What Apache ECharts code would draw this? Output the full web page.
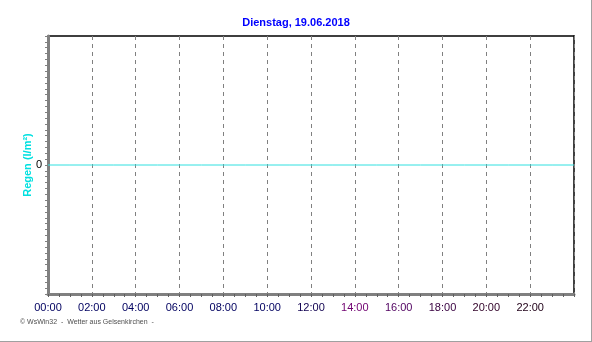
<!DOCTYPE html>
<html>
<head>
<meta charset="utf-8">
<script src="https://cdn.jsdelivr.net/npm/echarts@6/dist/echarts.min.js"></script>
<style>
html,body{margin:0;padding:0;background:#fff;}
#chart{width:592px;height:342px;}
</style>
</head>
<body>
<div id="chart"></div>
<script>
// Data
var titleText = "Dienstag, 19.06.2018";
var yAxisName = "Regen (l/m²)";
var footerText = "© WsWin32  -  Wetter aus Gelsenkirchen  -";
var hours = [0,1,2,3,4,5,6,7,8,9,10,11,12,13,14,15,16,17,18,19,20,21,22,23,24];
var rain  = [0,0,0,0,0,0,0,0,0,0,0,0,0,0,0,0,0,0,0,0,0,0,0,0,0];
var tickLabels = ["00:00","02:00","04:00","06:00","08:00","10:00","12:00","14:00","16:00","18:00","20:00","22:00"];
var labelColors = ["#000060","#000060","#000060","#000060","#000060","#000060","#100050","#700070","#500060","#380040","#300028","#200018"];

var chart = echarts.init(document.getElementById('chart'));
var richStyles = {};
labelColors.forEach(function(c, i){ richStyles['c'+i] = {color: c, fontSize: 11, fontFamily: 'Liberation Sans, Arial, sans-serif'}; });

chart.setOption({
  animation: false,
  backgroundColor: '#ffffff',
  title: {
    text: titleText, left: 'center', top: 12,
    textStyle: {color: '#0000ff', fontSize: 11, fontWeight: 'bold', fontFamily: 'Liberation Sans, Arial, sans-serif'}
  },
  grid: {left: 48, right: 18, top: 36, bottom: 48, show: false},
  xAxis: [{
    type: 'value', min: 0, max: 24, interval: 2, position: 'bottom',
    axisLine: {show: true, onZero: false, lineStyle: {color: '#808080', width: 3}},
    axisTick: {show: true, length: 3, lineStyle: {color: '#606060'}},
    minorTick: {show: true, splitNumber: 4, length: 3, lineStyle: {color: '#606060'}},
    splitLine: {show: true, lineStyle: {color: '#808080', type: [4, 4], width: 1}},
    axisLabel: {
      margin: 8,
      formatter: function(v){ var i = Math.round(v/2); if (i >= tickLabels.length) return ''; return '{c'+i+'|'+tickLabels[i]+'}'; },
      rich: richStyles
    },
    z: 3
  }, {
    type: 'value', min: 0, max: 24, position: 'top',
    axisLine: {show: true, onZero: false, lineStyle: {color: '#000', width: 1.5}},
    axisTick: {show: false}, axisLabel: {show: false}, splitLine: {show: false}
  }],
  yAxis: [{
    type: 'value', min: -1, max: 1, interval: 1, position: 'left',
    name: yAxisName, nameLocation: 'middle', nameRotate: 90, nameGap: 15, nameMoveOverlap: false,
    nameTextStyle: {color: '#00e0e0', fontSize: 11, fontWeight: 'bold', fontFamily: 'Liberation Sans, Arial, sans-serif'},
    axisLine: {show: true, onZero: false, lineStyle: {color: '#808080', width: 3}},
    axisTick: {show: true, length: 3, lineStyle: {color: '#808080'}},
    minorTick: {show: true, splitNumber: 22, length: 3, lineStyle: {color: '#808080'}},
    splitLine: {show: false},
    axisLabel: {
      margin: 6, color: '#000', fontSize: 11, fontFamily: 'Liberation Sans, Arial, sans-serif',
      formatter: function(v){ return v === 0 ? '0' : ''; }
    },
    z: 3
  }, {
    type: 'value', min: -1, max: 1, position: 'right',
    axisLine: {show: true, onZero: false, lineStyle: {color: '#000', width: 1.5}},
    axisTick: {show: false}, axisLabel: {show: false}, splitLine: {show: false}
  }],
  series: [{
    type: 'line', xAxisIndex: 0, yAxisIndex: 0,
    data: hours.map(function(h, i){ return [h, rain[i]]; }),
    showSymbol: false, lineStyle: {color: '#30e0e0', width: 1}, z: 5
  }],
  graphic: [
    {type: 'text', left: 20, top: 319, style: {text: footerText, fill: '#505050', font: '7px Liberation Sans, Arial, sans-serif'}},
    {type: 'line', shape: {x1: 591.5, y1: 0, x2: 591.5, y2: 342}, style: {stroke: '#a0a0a0', lineWidth: 1}},
    {type: 'line', shape: {x1: 0, y1: 341.5, x2: 592, y2: 341.5}, style: {stroke: '#a0a0a0', lineWidth: 1}}
  ]
});
</script>
</body>
</html>
